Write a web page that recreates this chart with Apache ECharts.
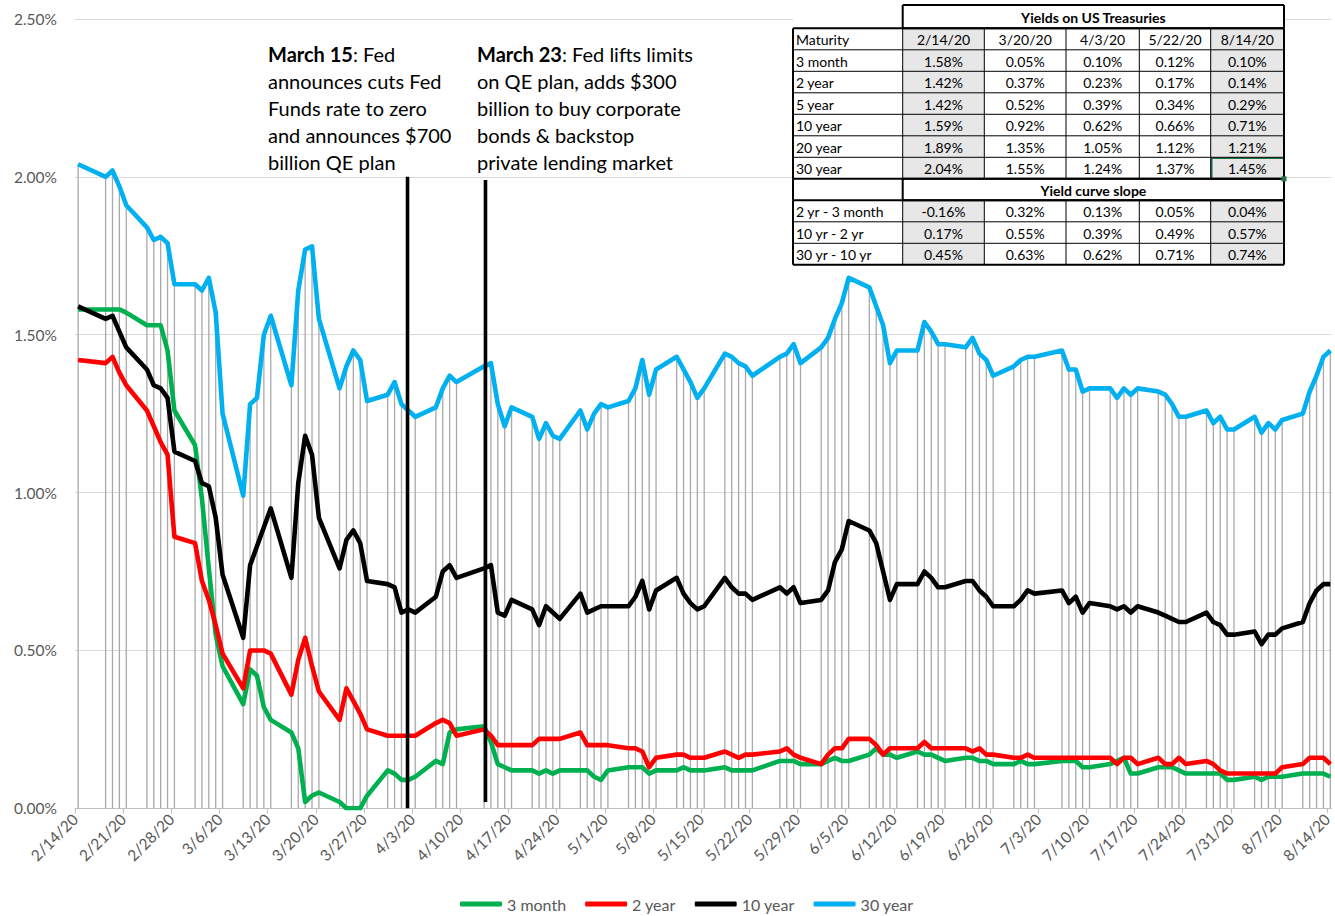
<!DOCTYPE html>
<html>
<head>
<meta charset="utf-8">
<script src="https://cdn.jsdelivr.net/npm/echarts@6/dist/echarts.min.js"></script>
<style>
html,body{margin:0;padding:0;background:#fff;}
#chart{width:1335px;height:916px;}
</style>
</head>
<body>
<div id="chart"></div>
<script>
// ---------------- DATA ----------------
const dates = [
 '2/14','2/18','2/19','2/20','2/21','2/24','2/25','2/26','2/27','2/28',
 '3/2','3/3','3/4','3/5','3/6','3/9','3/10','3/11','3/12','3/13','3/16','3/17','3/18','3/19','3/20','3/23','3/24','3/25','3/26','3/27','3/30','3/31',
 '4/1','4/2','4/3','4/6','4/7','4/8','4/9','4/13','4/14','4/15','4/16','4/17','4/20','4/21','4/22','4/23','4/24','4/27','4/28','4/29','4/30',
 '5/1','5/4','5/5','5/6','5/7','5/8','5/11','5/12','5/13','5/14','5/15','5/18','5/19','5/20','5/21','5/22','5/26','5/27','5/28','5/29',
 '6/1','6/2','6/3','6/4','6/5','6/8','6/9','6/10','6/11','6/12','6/15','6/16','6/17','6/18','6/19','6/22','6/23','6/24','6/25','6/26','6/29','6/30',
 '7/1','7/2','7/6','7/7','7/8','7/9','7/10','7/13','7/14','7/15','7/16','7/17','7/20','7/21','7/22','7/23','7/24','7/27','7/28','7/29','7/30','7/31',
 '8/3','8/4','8/5','8/6','8/7','8/10','8/11','8/12','8/13','8/14'
];
const yield3m = [
 1.58,1.58,1.58,1.58,1.57,1.53,1.53,1.53,1.45,1.26,
 1.15,0.98,0.76,0.55,0.45,0.33,0.44,0.42,0.32,0.28,0.24,0.19,0.02,0.04,0.05,0.02,0.00,0.00,0.00,0.04,0.12,0.11,
 0.09,0.09,0.10,0.15,0.14,0.24,0.25,0.26,0.21,0.14,0.13,0.12,0.12,0.11,0.12,0.11,0.12,0.12,0.12,0.10,0.09,
 0.12,0.13,0.13,0.13,0.11,0.12,0.12,0.13,0.12,0.12,0.12,0.13,0.12,0.12,0.12,0.12,0.15,0.15,0.15,0.14,
 0.14,0.15,0.16,0.15,0.15,0.17,0.19,0.17,0.17,0.16,0.18,0.17,0.17,0.16,0.15,0.16,0.16,0.15,0.15,0.14,0.14,0.15,
 0.14,0.14,0.15,0.15,0.15,0.13,0.13,0.14,0.15,0.16,0.11,0.11,0.13,0.13,0.13,0.12,0.11,0.11,0.11,0.11,0.09,0.09,
 0.10,0.09,0.10,0.10,0.10,0.11,0.11,0.11,0.11,0.10
];
const yield2y = [
 1.42,1.41,1.43,1.38,1.34,1.26,1.21,1.16,1.12,0.86,
 0.84,0.72,0.66,0.58,0.49,0.38,0.50,0.50,0.50,0.49,0.36,0.47,0.54,0.45,0.37,0.28,0.38,0.34,0.30,0.25,0.23,0.23,
 0.23,0.23,0.23,0.27,0.28,0.27,0.23,0.25,0.23,0.20,0.20,0.20,0.20,0.22,0.22,0.22,0.22,0.24,0.20,0.20,0.20,
 0.20,0.19,0.19,0.18,0.13,0.16,0.17,0.17,0.16,0.16,0.16,0.18,0.17,0.16,0.17,0.17,0.18,0.19,0.17,0.16,
 0.14,0.17,0.19,0.19,0.22,0.22,0.20,0.17,0.19,0.19,0.19,0.21,0.19,0.19,0.19,0.19,0.18,0.19,0.17,0.17,0.16,0.16,
 0.17,0.16,0.16,0.16,0.16,0.16,0.16,0.16,0.14,0.16,0.16,0.14,0.16,0.14,0.14,0.16,0.14,0.15,0.14,0.12,0.11,0.11,
 0.11,0.11,0.11,0.11,0.13,0.14,0.16,0.16,0.16,0.14
];
const yield10y = [
 1.59,1.55,1.56,1.51,1.46,1.39,1.34,1.33,1.30,1.13,
 1.10,1.03,1.02,0.92,0.74,0.54,0.77,0.83,0.89,0.95,0.73,1.03,1.18,1.12,0.92,0.76,0.85,0.88,0.84,0.72,0.71,0.70,
 0.62,0.63,0.62,0.67,0.75,0.77,0.73,0.76,0.77,0.62,0.61,0.66,0.63,0.58,0.64,0.62,0.60,0.68,0.62,0.63,0.64,
 0.64,0.64,0.67,0.72,0.63,0.69,0.73,0.68,0.65,0.63,0.64,0.73,0.70,0.68,0.68,0.66,0.70,0.68,0.70,0.65,
 0.66,0.69,0.78,0.82,0.91,0.88,0.84,0.75,0.66,0.71,0.71,0.75,0.73,0.70,0.70,0.72,0.72,0.69,0.67,0.64,0.64,0.66,
 0.69,0.68,0.69,0.65,0.67,0.62,0.65,0.64,0.63,0.64,0.62,0.64,0.62,0.61,0.60,0.59,0.59,0.62,0.59,0.58,0.55,0.55,
 0.56,0.52,0.55,0.55,0.57,0.59,0.65,0.69,0.71,0.71
];
const yield30y = [
 2.04,2.00,2.02,1.97,1.91,1.84,1.80,1.81,1.79,1.66,
 1.66,1.64,1.68,1.57,1.25,0.99,1.28,1.30,1.50,1.56,1.34,1.64,1.77,1.78,1.55,1.33,1.40,1.45,1.42,1.29,1.31,1.35,
 1.28,1.26,1.24,1.27,1.33,1.37,1.35,1.40,1.41,1.28,1.21,1.27,1.24,1.17,1.22,1.18,1.17,1.26,1.20,1.25,1.28,
 1.27,1.29,1.33,1.42,1.31,1.39,1.43,1.39,1.35,1.30,1.33,1.44,1.43,1.41,1.40,1.37,1.43,1.44,1.47,1.41,
 1.46,1.49,1.55,1.60,1.68,1.65,1.59,1.53,1.41,1.45,1.45,1.54,1.51,1.47,1.47,1.46,1.49,1.44,1.42,1.37,1.40,1.42,
 1.43,1.43,1.45,1.39,1.39,1.32,1.33,1.33,1.30,1.33,1.31,1.33,1.32,1.31,1.28,1.24,1.24,1.26,1.22,1.24,1.20,1.20,
 1.24,1.19,1.22,1.20,1.23,1.25,1.32,1.37,1.43,1.45
];
const seriesNames = ['3 month','2 year','10 year','30 year'];
const seriesColors = ['#00b050','#ff0000','#000000','#00b0f0'];
const tickLabels = ['2/14/20','2/21/20','2/28/20','3/6/20','3/13/20','3/20/20','3/27/20','4/3/20','4/10/20',
 '4/17/20','4/24/20','5/1/20','5/8/20','5/15/20','5/22/20','5/29/20','6/5/20','6/12/20','6/19/20','6/26/20',
 '7/3/20','7/10/20','7/17/20','7/24/20','7/31/20','8/7/20','8/14/20'];

// Table data
const tableTitle = 'Yields on US Treasuries';
const tableDates = ['2/14/20','3/20/20','4/3/20','5/22/20','8/14/20'];
const tableMaturities = ['3 month','2 year','5 year','10 year','20 year','30 year'];
const tableYields = [
 [1.58,0.05,0.10,0.12,0.10],
 [1.42,0.37,0.23,0.17,0.14],
 [1.42,0.52,0.39,0.34,0.29],
 [1.59,0.92,0.62,0.66,0.71],
 [1.89,1.35,1.05,1.12,1.21],
 [2.04,1.55,1.24,1.37,1.45]
];
const slopeTitle = 'Yield curve slope';
const slopeLabels = ['2 yr - 3 month','10 yr - 2 yr','30 yr - 10 yr'];
const slopeValues = [
 [-0.16,0.32,0.13,0.05,0.04],
 [0.17,0.55,0.39,0.49,0.57],
 [0.45,0.63,0.62,0.71,0.74]
];

// Annotations
const noteMarch15 = ['{b|March 15}: Fed','announces cuts Fed','Funds rate to zero','and announces $700','billion QE plan'];
const noteMarch23 = ['{b|March 23}: Fed lifts limits','on QE plan, adds $300','billion to buy corporate','bonds & backstop','private lending market'];
// event marker lines (in axis units: day offset from 2/14/20, yield %)
const eventLines = [[48.33, 0.0, 2.0], [59.66, 0.02, 1.99]];

// ---------------- HELPERS ----------------
const BASE = Date.UTC(2020, 1, 14);
function dayOf(s) {
  const p = s.split('/');
  return Math.round((Date.UTC(2020, +p[0] - 1, +p[1]) - BASE) / 864e5);
}
const SLOT = 0.45; // Excel date axis: point sits inside the day slot
const tickDays = tickLabels.map(dayOf);
const FONT = 'Lato, "Open Sans", sans-serif';

function pct(v) { return v.toFixed(2) + '%'; }

const lineSeries = seriesNames.map((n, i) => ({
  name: n,
  type: 'line',
  data: [yield3m, yield2y, yield10y, yield30y][i].map((v, k) => [dayOf(dates[k]) + SLOT, v]),
  showSymbol: false,
  symbol: 'none',
  lineStyle: { color: seriesColors[i], width: 4.6, join: 'round' },
  itemStyle: { color: seriesColors[i] },
  z: 3 + i,
  animation: false
}));

const dropSeries = {
  type: 'custom',
  name: 'drop',
  data: yield30y.map((v, k) => [dayOf(dates[k]) + SLOT, v]),
  encode: { x: 0, y: 1 },
  renderItem: function (params, api) {
    const a = api.coord([api.value(0), 0]);
    const b = api.coord([api.value(0), api.value(1)]);
    return { type: 'line', shape: { x1: a[0], y1: a[1], x2: b[0], y2: b[1] },
      style: { stroke: '#a9a9a9', lineWidth: 1.3 } };
  },
  z: 1, silent: true, animation: false
};

const eventSeries = {
  type: 'custom',
  name: 'events',
  data: eventLines,
  encode: { x: 0, y: [1, 2] },
  renderItem: function (params, api) {
    const a = api.coord([api.value(0), api.value(1)]);
    const b = api.coord([api.value(0), api.value(2)]);
    return { type: 'line', shape: { x1: a[0], y1: a[1], x2: b[0], y2: b[1] },
      style: { stroke: '#000', lineWidth: 3.6 } };
  },
  clip: false, z: 10, silent: true, animation: false
};

// ---------------- TABLE (graphic) ----------------
const colX = [793, 902.7, 984.3, 1066, 1139.3, 1210.7, 1284];
const headTop = 5, bodyTop = 28.3, rowH = 21.5;
function rowTop(i) { return bodyTop + i * rowH; }
const tableBottom = rowTop(11);
const g = [];
const TZ = 50;
function rect(x, y, w, h, fill, stroke, lw) {
  g.push({ type: 'rect', z: TZ, silent: true, shape: { x: x, y: y, width: w, height: h },
    style: { fill: fill || 'none', stroke: stroke || 'none', lineWidth: lw || 0 } });
}
function hline(x1, x2, y, lw) {
  g.push({ type: 'line', z: TZ + 1, silent: true, shape: { x1: x1, y1: y, x2: x2, y2: y }, style: { stroke: '#000', lineWidth: lw } });
}
function vline(x, y1, y2, lw) {
  g.push({ type: 'line', z: TZ + 1, silent: true, shape: { x1: x, y1: y1, x2: x, y2: y2 }, style: { stroke: '#000', lineWidth: lw } });
}
function txt(s, x, y, align, bold) {
  g.push({ type: 'text', z: TZ + 2, silent: true, x: x, y: y,
    style: { text: s, fill: '#000', font: (bold ? 'bold ' : '') + '14px ' + FONT,
      align: align, textAlign: align, verticalAlign: 'middle', textVerticalAlign: 'middle' } });
}
// background
rect(colX[0], headTop, colX[6] - colX[0], tableBottom - headTop, '#fff');
// gray columns (first and last date)
[1, 5].forEach(c => {
  [0,1,2,3,4,5,6,8,9,10].forEach(r => rect(colX[c], rowTop(r), colX[c + 1] - colX[c], rowH, '#e7e7e7'));
});
// thin inner lines
for (let r = 1; r <= 10; r++) if (r !== 7 && r !== 8) hline(colX[0], colX[6], rowTop(r), 1);
[0,1,2,3,4,5,6,8,9,10].forEach(r => { for (let c = 1; c <= 5; c++) vline(colX[c], rowTop(r), rowTop(r + 1), 1); });
// thick boxes
function box(x1, y1, x2, y2) { hline(x1, x2, y1, 2); hline(x1, x2, y2, 2); vline(x1, y1, y2, 2); vline(x2, y1, y2, 2); }
box(colX[1], headTop, colX[6], bodyTop);
box(colX[0], bodyTop, colX[6], rowTop(7));
box(colX[1], rowTop(7), colX[6], rowTop(8));
vline(colX[0], rowTop(7), rowTop(8), 2);
box(colX[0], rowTop(8), colX[6], tableBottom);
// texts
txt(tableTitle, (colX[1] + colX[6]) / 2, (headTop + bodyTop) / 2 + 0.5, 'center', true);
txt('Maturity', colX[0] + 3, rowTop(0) + rowH / 2 + 0.5, 'left');
tableDates.forEach((d, c) => txt(d, (colX[c + 1] + colX[c + 2]) / 2, rowTop(0) + rowH / 2 + 0.5, 'center'));
tableMaturities.forEach((m, r) => {
  txt(m, colX[0] + 3, rowTop(r + 1) + rowH / 2 + 0.5, 'left');
  tableYields[r].forEach((v, c) => txt(pct(v), (colX[c + 1] + colX[c + 2]) / 2, rowTop(r + 1) + rowH / 2 + 0.5, 'center'));
});
txt(slopeTitle, (colX[1] + colX[6]) / 2, rowTop(7) + rowH / 2 + 0.5, 'center', true);
slopeLabels.forEach((m, r) => {
  txt(m, colX[0] + 3, rowTop(r + 8) + rowH / 2 + 0.5, 'left');
  slopeValues[r].forEach((v, c) => txt(pct(v), (colX[c + 1] + colX[c + 2]) / 2, rowTop(r + 8) + rowH / 2 + 0.5, 'center'));
});
// Excel selection outline on last 30-year cell
rect(colX[5] + 1, rowTop(6) + 1, colX[6] - colX[5] - 1, rowH - 1, 'none', '#217346', 1.6);
g.push({ type: 'rect', z: TZ + 3, silent: true, shape: { x: colX[6] - 2.5, y: rowTop(7) - 2.5, width: 5, height: 5 }, style: { fill: '#217346' } });

// annotations
function note(lines, x) {
  g.push({ type: 'text', z: 60, silent: true, x: x, y: 40,
    style: { text: lines.join('\n'), fill: '#000', font: '20px ' + FONT, lineHeight: 27,
      rich: { b: { fontWeight: 'bold', fontSize: 20, fontFamily: FONT, lineHeight: 27, fill: '#000' } } } });
}
note(noteMarch15, 268);
note(noteMarch23, 477);

// ---------------- CHART ----------------
const chart = echarts.init(document.getElementById('chart'), null, { renderer: 'svg' });
chart.setOption({
  animation: false,
  backgroundColor: '#fff',
  textStyle: { fontFamily: FONT },
  grid: { left: 75, right: 2, top: 19, bottom: 107.7, containLabel: false },
  xAxis: {
    type: 'value', min: 0, max: 182.6, interval: 7,
    splitLine: { show: false },
    axisLine: { show: true, lineStyle: { color: '#bfbfbf', width: 1 } },
    axisTick: { show: true, length: 5, lineStyle: { color: '#bfbfbf' }, customValues: tickDays },
    axisLabel: {
      customValues: tickDays, rotate: 45, margin: 8, color: '#595959', fontSize: 15.5, fontFamily: FONT,
      formatter: function (v) { const i = tickDays.findIndex(t => Math.abs(t - v) < 1e-6); return i >= 0 ? tickLabels[i] : ''; }
    }
  },
  yAxis: {
    type: 'value', min: 0, max: 2.5, interval: 0.5,
    axisLine: { show: false }, axisTick: { show: false },
    splitLine: { lineStyle: { color: '#d9d9d9', width: 1 } },
    axisLabel: { formatter: v => pct(v), color: '#595959', fontSize: 15.5, fontFamily: FONT, margin: 18 }
  },
  legend: {
    data: seriesNames, left: 460, top: 896, padding: 0, itemWidth: 42, itemHeight: 5, itemGap: 19, icon: 'roundRect',
    textStyle: { fontSize: 16, color: '#595959', fontFamily: FONT }
  },
  series: [dropSeries].concat(lineSeries, [eventSeries]),
  graphic: { elements: g }
});
</script>
</body>
</html>
